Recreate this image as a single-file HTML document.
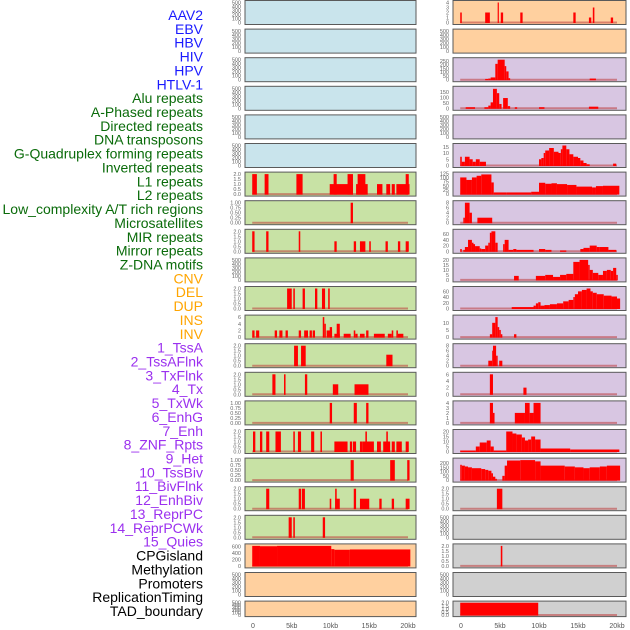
<!DOCTYPE html>
<html><head><meta charset="utf-8">
<style>
html,body{margin:0;padding:0;background:#fff;width:630px;height:630px;overflow:hidden;}
svg{display:block;font-family:"Liberation Sans",sans-serif;}
</style></head>
<body>
<svg id="chart" width="630" height="630" viewBox="0 0 630 630" xmlns="http://www.w3.org/2000/svg"></svg>
<script>
// ---------- data ----------
const trackLabels = ["AAV2","EBV","HBV","HIV","HPV","HTLV-1","Alu repeats","A-Phased repeats","Directed repeats","DNA transposons","G-Quadruplex forming repeats","Inverted repeats","L1 repeats","L2 repeats","Low_complexity A/T rich regions","Microsatellites","MIR repeats","Mirror repeats","Z-DNA motifs","CNV","DEL","DUP","INS","INV","1_TssA","2_TssAFlnk","3_TxFlnk","4_Tx","5_TxWk","6_EnhG","7_Enh","8_ZNF_Rpts","9_Het","10_TssBiv","11_BivFlnk","12_EnhBiv","13_ReprPC","14_ReprPCWk","15_Quies","CPGisland","Methylation","Promoters","ReplicationTiming","TAD_boundary"];
const labelGroups = [6,13,5,15,5];
const xTickValues = [0,5,10,15,20];
const xTickLabels = ["0","5kb","10kb","15kb","20kb"];

const T500=[0,100,200,300,400,500], T2=[0,0.5,1,1.5,2], T1=[0,0.25,0.5,0.75,1];
const leftTicks = [T500,T500,T500,T500,T500,T500,T2,T1,T2,T500,T2,[0,2,4,6],T2,T2,T1,T2,T1,T2,T2,[0,200,400,600],T500,T500];
const leftMax = [500,500,500,500,500,500,2,1,2,500,2,6,2,2,1,2,1,2,2,620,500,500];
const leftSegs = [
 [],[],[],[],[],[],
 [[-0.1,0.5,2],[1.5,2.0,2],[5.6,6.4,2],[9.9,12.9,1],[10.4,10.8,2],[12.2,12.9,2],[13.3,14.8,1],[13.5,14.5,2],[16,16.7,1],[17.2,17.7,1],[17.9,18.3,1],[18.5,20.2,1],[19.7,20.1,2]],
 [[12.6,12.9,1]],
 [[-0.1,0.2,2],[1.7,2.0,2],[5.9,6.1,2],[10.5,10.8,1],[13,13.3,1],[13.8,14.5,1],[15,15.2,1],[17.1,17.4,1],[18.7,19,1],[19.7,20.1,1]],
 [],
 [[4.4,5.0,2],[5.2,5.4,2],[6.4,6.7,2],[8.0,8.3,2],[8.9,9.3,2],[9.7,9.9,2]],
 [[-0.1,0.2,2],[0.4,0.8,2],[2.8,3.1,2],[3.4,3.8,2],[4.2,4.5,2],[5.9,6.2,2],[6.6,7.1,2],[7.3,7.6,2],[7.7,8.0,2],[9.0,9.2,6],[9.2,9.4,4],[9.5,10.2,2],[9.9,10.2,3],[10.5,11.2,1],[10.8,11.2,4],[11.7,12.6,1],[13,13.2,2],[13.2,13.5,1],[13.8,14.4,1],[14.6,14.9,2],[15.6,17,1],[17.4,17.9,1],[17.9,18.1,2],[18.5,18.7,2],[18.7,19.4,1]],
 [[5.3,5.8,2],[6.2,6.8,2],[17.2,18.0,1.1]],
 [[2.5,2.9,2],[4.0,4.2,2],[6.7,7.0,2],[10.3,11.0,1],[13.1,14.9,1]],
 [[9.9,10.2,1],[13,13.4,1],[14.6,14.9,1]],
 [[0,0.3,2],[0.9,1.2,2],[1.7,2.1,2],[2.9,3.6,2],[5.2,5.4,2],[5.8,6.2,2],[7.5,7.9,2],[8.7,8.9,2],[10.5,12.2,1],[12.5,12.8,1],[12.9,13.3,1],[13.8,14.1,1],[14.1,15.6,1],[14.5,14.7,2],[16,16.5,1],[16.8,17.7,1],[17.2,17.4,2],[17.9,18.3,1],[18.5,19.2,1],[19.7,20.1,1]],
 [[12.6,13.0,1],[17.7,18.3,1],[19.9,20.2,1]],
 [[1.7,2.1,2],[5.9,6.2,2],[6.3,6.7,2],[9.9,10.1,1],[10.6,11.2,1],[10.6,10.8,2],[13,13.3,2],[13.8,15.0,1],[16.3,16.6,1],[17.9,18.2,1],[19.7,20.2,1]],
 [[4.6,5.0,2],[5.2,5.4,2],[9.0,9.3,2]],
 [[-0.1,0.9,620],[0.9,3.1,610],[3.1,10.1,620],[10.1,10.5,520],[10.5,12.5,500],[12.5,20.3,510]],
 [],[]
];

const rightTicks = [[0,1,2,3,4],T500,[0,50,100,150,200,250],[0,50,100,150],T500,[0,5,10,15],[0,25,50,75,100,125],[0,2,4,6,8],[0,20,40,60],[0,5,10,15,20],[0,20,40,60],[0,5,10],[0,2,4,6,8],[0,2,4,6],[0,1,2,3,4],[0,5,10,15,20],[0,50,100,150,200],T2,T500,T2,T500,T2];
const rightMax = [4,500,265,185,500,16,120,8,70,20,70,14,8,6,4,20,235,2,500,2,500,2];
const rightSegs = [
 [[-0.1,0.1,2],[3.1,3.4,2],[3.4,3.7,2],[4.7,4.8,4],[5.1,5.4,2],[7.6,7.9,2],[14.4,14.7,2],[16.4,16.7,1],[16.9,17.1,3],[19.2,19.5,1]],
 [],
 [[3.1,3.5,10],[3.5,3.8,15],[3.8,4.4,30],[4.4,4.7,210],[4.7,5.6,265],[5.6,5.8,180],[5.8,6.1,110],[6.1,6.3,20],[16.5,17.3,15]],
 [[0.6,1.8,10],[3.0,3.5,10],[3.5,3.8,25],[3.8,4.1,55],[4.1,4.6,180],[4.6,4.9,140],[4.9,5.2,40],[5.4,6.0,95],[6.0,6.3,20],[6.9,7.2,10],[10,10.7,10],[16.4,17.6,15]],
 [],
 [[-0.1,0.1,7],[0.1,0.5,3],[0.5,1.1,7],[1.1,1.5,5],[1.5,1.9,3],[1.9,2.4,5],[2.4,3.2,3],[10,10.3,5],[10.3,10.6,6],[10.6,10.8,10],[10.8,11.3,12],[11.3,11.9,14],[11.9,12.5,11],[12.5,12.8,10],[12.8,13.0,13],[13.0,13.5,16],[13.5,13.9,13],[13.9,14.4,9],[14.4,15.0,7],[15.0,15.3,6],[15.3,15.7,4],[15.7,16.1,2],[16.1,16.5,1],[19.5,19.9,1.5]],
 [[-0.1,0.7,100],[0.7,1.4,85],[1.4,2.0,100],[2.0,2.6,110],[2.6,3.9,118],[3.9,4.2,70],[4.2,5.8,10],[5.8,9.0,10],[9.0,10.0,14],[10.0,10.8,68],[10.8,11.6,62],[11.6,12.3,65],[12.3,13.6,60],[13.6,14.8,55],[14.8,16.8,45],[16.8,17.3,40],[17.3,18.2,48],[18.2,20.3,50]],
 [[0.3,0.5,2],[0.5,1.1,8],[1.1,1.4,4],[2.1,4.0,2]],
 [[-0.1,0.1,8],[0.3,0.5,5],[0.5,0.9,15],[0.9,1.4,40],[1.4,1.6,30],[1.6,1.8,25],[1.8,2.4,18],[2.4,2.6,10],[2.6,3.1,8],[3.1,3.5,20],[3.5,3.7,30],[3.7,3.9,65],[3.9,4.4,70],[4.4,4.7,30],[5.4,5.6,25],[5.6,6.1,40],[6.1,6.7,5],[6.7,7.1,8],[7.1,9.3,5],[10,10.8,8],[10.8,11.6,5],[12.7,13.5,3],[15.3,15.7,8],[15.7,16.5,12],[16.5,17.4,20],[17.4,17.8,15],[17.8,18.9,15],[18.9,19.9,5]],
 [[6.8,7.4,4],[9.6,10.8,4],[10.8,11.8,5],[11.8,12.7,3],[12.7,13.5,5],[13.5,14.4,6],[14.4,15.2,18],[15.2,16.3,20],[16.3,16.5,15],[16.5,16.9,10],[16.9,17.6,7],[17.6,18.2,5],[18.2,18.7,9],[18.7,19.2,10],[19.2,19.5,9],[19.5,19.9,12],[19.9,20.1,5]],
 [[6.5,9.3,5],[9.3,9.6,10],[9.6,9.9,18],[9.9,10.2,22],[10.2,10.7,10],[10.7,11.4,12],[11.4,12.3,15],[12.3,13.1,18],[13.1,13.8,25],[13.8,14.4,30],[14.4,14.6,40],[14.6,15.0,50],[15.0,15.5,60],[15.5,16.1,65],[16.1,16.6,70],[16.6,16.9,60],[16.9,17.4,55],[17.4,18.3,50],[18.3,19.3,45],[19.3,20.0,42],[20.0,20.4,35]],
 [[3.7,4.0,2],[4.0,4.4,10],[4.4,4.7,14],[4.7,4.9,7],[4.9,5.1,5],[5.1,5.3,2],[6.8,7.1,2]],
 [[3.5,4.0,2],[4.0,4.1,6],[4.1,4.5,8],[4.5,4.7,4],[4.9,5.3,2]],
 [[3.7,4.1,6],[8.0,8.4,2]],
 [[3.7,4.1,4],[4.1,4.3,2],[6.9,8.2,2],[8.2,8.8,4],[8.8,9.3,2],[9.3,10.2,4]],
 [[-0.1,1.9,1],[1.9,2.4,5],[2.4,3.3,9],[3.3,3.8,11],[3.8,4.2,5],[4.2,5.8,1],[5.8,6.6,20],[6.6,7.1,18],[7.1,7.8,17],[7.8,8.2,14],[8.2,8.6,11],[8.6,9.0,12],[9.0,9.5,15],[9.5,10.2,12],[10.2,14.0,3],[14.0,20.3,2]],
 [[-0.1,0.1,180],[0.1,0.5,170],[0.5,0.9,160],[0.9,1.4,150],[1.4,2.6,140],[2.6,3.1,130],[3.1,3.5,120],[3.5,3.9,110],[3.9,4.1,80],[4.1,4.4,40],[4.4,4.6,15],[5.3,5.6,50],[5.6,5.9,170],[5.9,7.6,230],[7.6,9.5,235],[9.5,10.2,220],[10.2,13.3,170],[13.3,14.6,160],[14.6,15.7,150],[15.7,16.5,140],[16.5,17.8,150],[17.8,18.7,160],[18.7,20.4,170]],
 [[4.6,5.3,2]],
 [],
 [[5.1,5.3,2]],
 [],
 [[-0.1,9.9,2]]
];

const leftBg = ["#c9e4ec","#c9e4ec","#c9e4ec","#c9e4ec","#c9e4ec","#c9e4ec","#c8e2a5","#c8e2a5","#c8e2a5","#c8e2a5","#c8e2a5","#c8e2a5","#c8e2a5","#c8e2a5","#c8e2a5","#c8e2a5","#c8e2a5","#c8e2a5","#c8e2a5","#ffd09f","#ffd09f","#ffd09f"];
const rightBg = ["#ffd09f","#ffd09f","#d8c6e2","#d8c6e2","#d8c6e2","#d8c6e2","#d8c6e2","#d8c6e2","#d8c6e2","#d8c6e2","#d8c6e2","#d8c6e2","#d8c6e2","#d8c6e2","#d8c6e2","#d8c6e2","#d8c6e2","#d0d0d0","#d0d0d0","#d0d0d0","#d0d0d0","#d0d0d0"];

// ---------- drawing ----------
const NS="http://www.w3.org/2000/svg";
const svg=document.getElementById('chart');
function mk(tag,attrs,parent){const e=document.createElementNS(NS,tag);for(const k in attrs)e.setAttribute(k,attrs[k]);(parent||svg).appendChild(e);return e;}

const labelColors=["#1a1aff","#0a6b0a","#ffa500","#9b30ef","#000000"];
let gi=0,cnt=0;
trackLabels.forEach((t,i)=>{
  while(cnt>=labelGroups[gi]){gi++;cnt=0;}
  cnt++;
  const e=mk('text',{x:203,y:15+i*13.86+5,'text-anchor':'end','font-size':14,fill:labelColors[gi]});
  
  
  e.textContent=t;
});

const cols=[
 {x0:245,x1:416,k0:253,k20:408,segs:leftSegs,max:leftMax,ticks:leftTicks,bg:leftBg,name:'left'},
 {x0:453,x1:626,k0:461,k20:617,segs:rightSegs,max:rightMax,ticks:rightTicks,bg:rightBg,name:'right'}
];
function fmt(v,ticks){const step=ticks[1]-ticks[0];if(step<0.5)return v.toFixed(2);if(step<1)return v.toFixed(1);return String(v);}

cols.forEach(c=>{
  const xs=kb=>c.k0+(c.k20-c.k0)*kb/20;
  for(let r=0;r<22;r++){
    const top=r*28.6, h=(r==21)?16.5:25, bot=top+h;
    const g=mk('g',{});
    
    
    const bg=mk('rect',{x:c.x0,y:top+0.5,width:c.x1-c.x0,height:h-1,fill:c.bg[r],stroke:'#5a5a5a','stroke-width':1},g);
    
    
    const m=c.max[r], pad=m*0.05;
    const ys=v=>bot-1.5-(v+pad)/(m+2*pad)*(h-3);
    const segs=c.segs[r];
    if(segs.length){
      const bl=mk('line',{x1:xs(-0.1),x2:xs(20),y1:ys(0),y2:ys(0),stroke:'rgba(190,60,60,0.55)','stroke-width':2},g);
      
      
    }
    segs.forEach(s=>{
      const x=xs(s[0]), w=Math.max(1.2,xs(s[1])-xs(s[0])), y=ys(s[2]);
      const b=mk('rect',{x:x,y:y,width:w,height:ys(0)-y+0.5,fill:'#ff0000'},g);
      
      
    });
    c.ticks[r].forEach(v=>{
      const tl=mk('text',{x:c.x0-4,y:ys(v)+2,'text-anchor':'end','font-size':5.5,fill:'#666'},g);
      
      
      tl.textContent=fmt(v,c.ticks[r]);
    });
  }
  xTickValues.forEach((v,i)=>{
    const t=mk('text',{x:xs(v),y:628,'text-anchor':'middle','font-size':7,fill:'#555'});
    
    
    t.textContent=xTickLabels[i];
  });
});
</script>
</body></html>
